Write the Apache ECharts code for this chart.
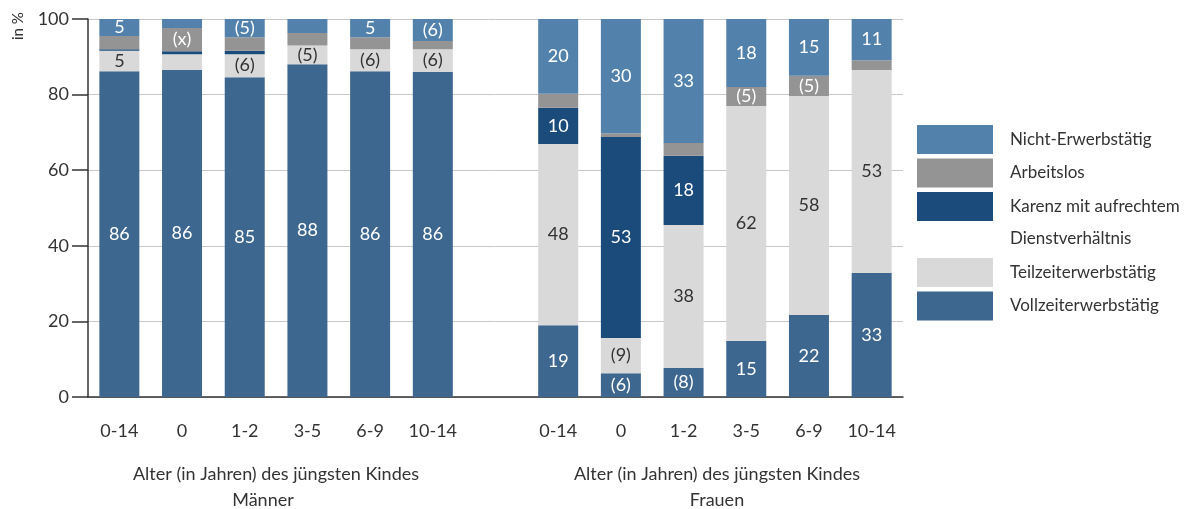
<!DOCTYPE html>
<html><head><meta charset="utf-8">
<script src="https://cdn.jsdelivr.net/npm/echarts@6/dist/echarts.min.js"></script>
<style>html,body{margin:0;padding:0;background:#fff}#c{width:1197px;height:509px}</style>
</head><body><div id="c"></div>
<script>
const categories = ['0-14','0','1-2','3-5','6-9','10-14','','0-14','0','1-2','3-5','6-9','10-14'];
const seriesNames = ['Vollzeiterwerbstätig','Teilzeiterwerbstätig','Karenz mit aufrechtem Dienstverhältnis','Arbeitslos','Nicht-Erwerbstätig'];
// Männer (0-14, 0, 1-2, 3-5, 6-9, 10-14)
const maleVollzeit   = [86.2, 86.5, 84.6, 88.0, 86.2, 86.0];
const maleTeilzeit   = [5.4, 4.2, 6.1, 5.0, 5.8, 6.0];
const maleKarenz     = [0.4, 0.8, 0.9, 0, 0, 0];
const maleArbeitslos = [3.5, 6.1, 3.6, 3.3, 3.2, 2.2];
const maleNicht      = [4.5, 2.4, 4.8, 3.7, 4.8, 5.8];
// Frauen
const femVollzeit    = [19.0, 6.3, 7.7, 14.8, 21.7, 32.8];
const femTeilzeit    = [47.9, 9.3, 37.8, 62.2, 57.9, 53.7];
const femKarenz      = [9.6, 53.2, 18.3, 0, 0, 0];
const femArbeitslos  = [3.7, 1.0, 3.4, 5.0, 5.4, 2.6];
const femNicht       = [19.8, 30.2, 32.8, 18.0, 15.0, 10.9];
// Beschriftungen
const lblVollzeit    = ['86','86','85','88','86','86','','19','(6)','(8)','15','22','33'];
const lblTeilzeit    = ['5','','(6)','(5)','(6)','(6)','','48','(9)','38','62','58','53'];
const lblKarenz      = ['','','','','','','','10','53','18','','',''];
const lblArbeitslos  = ['','(x)','','','','','','','','','(5)','(5)',''];
const lblNicht       = ['5','','(5)','','5','(6)','','20','30','33','18','15','11'];
const yTicks = [0,20,40,60,80,100];

const join = (m,f) => m.concat([null], f);
const values = [join(maleVollzeit,femVollzeit), join(maleTeilzeit,femTeilzeit), join(maleKarenz,femKarenz), join(maleArbeitslos,femArbeitslos), join(maleNicht,femNicht)];
const labels = [lblVollzeit, lblTeilzeit, lblKarenz, lblArbeitslos, lblNicht];
const colors = ['#3e678f', '#d9d9d9', '#1a4b7b', '#949494', '#5282ac'];
const labelColors = ['#fff', '#333', '#fff', '#fff', '#fff'];
const FONT = 'Lato';
const FS = 18;

const chart = echarts.init(document.getElementById('c'));
const series = seriesNames.map((n,i) => ({
  name: n, type: 'bar', stack: 'a', barWidth: 40,
  data: values[i],
  itemStyle: {color: colors[i]},
  label: {show: true, position: 'inside', color: labelColors[i], fontSize: FS, fontFamily: FONT,
    formatter: p => labels[i][p.dataIndex] || ''}
}));
const legendBase = {orient: 'vertical', left: 917, padding: 0, icon: 'rect', itemWidth: 76, itemHeight: 29, itemGap: 4.5,
  selectedMode: false, textStyle: {fontSize: FS - 1, color: '#333', fontFamily: FONT, padding: [0,0,0,12]}};
chart.setOption({
  animation: false,
  grid: {left: 88, right: 294, top: 19, bottom: 112},
  legend: [
    Object.assign({}, legendBase, {top: 125, data: [seriesNames[4], seriesNames[3]]}),
    Object.assign({}, legendBase, {top: 192 - 33.5, data: [
      {name: seriesNames[2], textStyle: {lineHeight: 32}}
    ], formatter: n => '\nKarenz mit aufrechtem\nDienstverhältnis'}),
    Object.assign({}, legendBase, {top: 258, data: [seriesNames[1], seriesNames[0]]})
  ],
  xAxis: {type: 'category', data: categories,
    axisLine: {lineStyle: {color: '#333', width: 1.5}}, axisTick: {show: false},
    axisLabel: {interval: 0, fontSize: FS, color: '#333', fontFamily: FONT, margin: 25}},
  yAxis: {type: 'value', min: yTicks[0], max: yTicks[yTicks.length-1], interval: 20,
    axisLine: {show: true, lineStyle: {color: '#333', width: 1.5}},
    axisTick: {show: true, length: 16, lineStyle: {color: '#333', width: 1.5}},
    axisLabel: {fontSize: FS, color: '#333', fontFamily: FONT, margin: 19},
    splitLine: {lineStyle: {color: '#c8c8c8'}}},
  graphic: [
    {type: 'text', x: 11, y: 40, rotation: Math.PI/2, style: {text: 'in %', fontSize: 15, fill: '#333', fontFamily: FONT}},
    {type: 'text', x: 276, y: 474, style: {text: 'Alter (in Jahren) des jüngsten Kindes', fontSize: FS, fill: '#333', fontFamily: FONT, align: 'center', verticalAlign: 'middle'}},
    {type: 'text', x: 263, y: 500, style: {text: 'Männer', fontSize: FS, fill: '#333', fontFamily: FONT, align: 'center', verticalAlign: 'middle'}},
    {type: 'text', x: 717, y: 474, style: {text: 'Alter (in Jahren) des jüngsten Kindes', fontSize: FS, fill: '#333', fontFamily: FONT, align: 'center', verticalAlign: 'middle'}},
    {type: 'text', x: 717, y: 500, style: {text: 'Frauen', fontSize: FS, fill: '#333', fontFamily: FONT, align: 'center', verticalAlign: 'middle'}}
  ],
  series: series
});
</script></body></html>
